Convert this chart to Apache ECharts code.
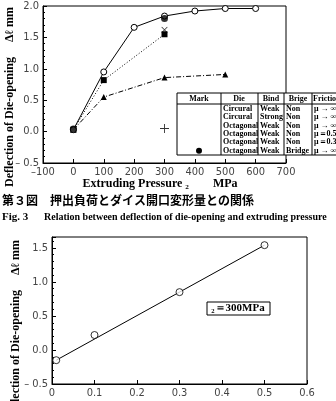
<!DOCTYPE html>
<html>
<head>
<meta charset="utf-8">
<script src="https://cdn.jsdelivr.net/npm/echarts@6/dist/echarts.min.js"></script>
<style>
  html, body { margin: 0; padding: 0; background: #fff; }
  #chart { width: 336px; height: 401px; }
</style>
</head>
<body>
<div id="chart"></div>
<script>
// top chart: deflection vs extruding pressure
var pressInf = [0, 100, 200, 300, 400, 500, 600];
var deflInf = [0.03, 0.95, 1.66, 1.84, 1.92, 1.96, 1.96];
var pressHalf = [0, 100, 300];
var deflHalf = [0.03, 0.82, 1.55];
var pressThird = [0, 100, 300, 500];
var deflThird = [0.03, 0.55, 0.86, 0.91];
var pressBridge = [0, 300];
var deflBridge = [0.04, 1.8];
var pressCircWeak = [300];
var deflCircWeak = [1.62];
var pressCircStrong = [300];
var deflCircStrong = [0.05];

// bottom chart: deflection vs friction at p2 = 300MPa
var friction = [0.01, 0.1, 0.3, 0.5];
var deflFric = [-0.15, 0.22, 0.85, 1.54];
var fitX = [0.01, 0.5];
var fitY = [-0.15, 1.54];

// legend table
var tblHead = ['Mark', 'Die', 'Bind', 'Brige', 'Friction'];
var tblDie = ['Circural', 'Circural', 'Octagonal', 'Octagonal', 'Octagonal', 'Octagonal'];
var tblBind = ['Weak', 'Strong', 'Weak', 'Weak', 'Weak', 'Weak'];
var tblBrige = ['Non', 'Non', 'Non', 'Non', 'Non', 'Bridge'];
var tblFric = ['μ → ∞', 'μ → ∞', 'μ → ∞', 'μ＝0.5', 'μ＝0.3', 'μ → ∞'];

function zip(xs, ys) {
    return xs.map(function (x, i) { return [x, ys[i]]; });
}

var plusPath = 'path://M4.5,0h1v10h-1z M0,4.5h10v1h-10z';
var tickFont = { color: '#444', fontSize: 11, fontFamily: 'Liberation Sans Narrow, DejaVu Sans Condensed, sans-serif' };
var serifB = 'Liberation Serif, DejaVu Serif, serif';

function minusFmt(v) {
    var s = (Math.round(v * 10) / 10).toFixed(1);
    return s.replace('-', '– ');
}

var chart = echarts.init(document.getElementById('chart'));

// build table graphics
var tx = [177, 221, 258, 284, 312];
var tTop = 93, tHead = 104, tBot = 155, rowH = 8.4;
var tbl = [];
tbl.push({ type: 'rect', shape: { x: 177, y: tTop, width: 175, height: tBot - tTop }, style: { fill: '#fff', stroke: '#000', lineWidth: 1 }, z: 10 });
tbl.push({ type: 'line', shape: { x1: 177, y1: tHead, x2: 340, y2: tHead }, style: { stroke: '#000', lineWidth: 1 }, z: 11 });
for (var c = 1; c < tx.length; c++) {
    tbl.push({ type: 'line', shape: { x1: tx[c], y1: tTop, x2: tx[c], y2: tBot }, style: { stroke: '#000', lineWidth: 1 }, z: 11 });
}
var headX = [199, 239, 271, 298, 313];
tblHead.forEach(function (h, i) {
    tbl.push({ type: 'text', x: headX[i], y: 99, z: 12, style: { text: h, fill: '#000', font: 'bold 8px ' + serifB, textAlign: i == 4 ? 'left' : 'center', textVerticalAlign: 'middle' } });
});
function rowY(r) { return tHead + rowH * (r + 0.5) + 0.5; }
var cols = [tblDie, tblBind, tblBrige, tblFric];
for (var r = 0; r < 6; r++) {
    cols.forEach(function (col, i) {
        tbl.push({ type: 'text', x: tx[i + 1] + 2, y: rowY(r), z: 12, style: { text: col[r], fill: '#000', font: 'bold 8px ' + serifB, textAlign: 'left', textVerticalAlign: 'middle' } });
    });
}
// mark column
tbl.push({ type: 'group', x: 199, y: rowY(0), z: 12, children: [
    { type: 'line', shape: { x1: -3, y1: -3, x2: 3, y2: 3 }, style: { stroke: '#000' } },
    { type: 'line', shape: { x1: -3, y1: 3, x2: 3, y2: -3 }, style: { stroke: '#000' } }] });
tbl.push({ type: 'group', x: 199, y: rowY(1), z: 12, children: [
    { type: 'line', shape: { x1: -4, y1: 0, x2: 4, y2: 0 }, style: { stroke: '#000' } },
    { type: 'line', shape: { x1: 0, y1: -4, x2: 0, y2: 4 }, style: { stroke: '#000' } }] });
tbl.push({ type: 'group', x: 199, y: rowY(2), z: 12, children: [
    { type: 'line', shape: { x1: -16, y1: 0, x2: 16, y2: 0 }, style: { stroke: '#000' } },
    { type: 'circle', shape: { cx: 0, cy: 0, r: 3 }, style: { fill: '#fff', stroke: '#000' } }] });
tbl.push({ type: 'group', x: 199, y: rowY(3), z: 12, children: [
    { type: 'line', shape: { x1: -18, y1: 0, x2: 18, y2: 0 }, style: { stroke: '#000', lineDash: [1, 1.5] } },
    { type: 'rect', shape: { x: -3, y: -3, width: 6, height: 6 }, style: { fill: '#000' } }] });
tbl.push({ type: 'group', x: 199, y: rowY(4), z: 12, children: [
    { type: 'line', shape: { x1: -18, y1: 0, x2: 18, y2: 0 }, style: { stroke: '#000', lineDash: [4, 2, 1, 2] } },
    { type: 'polygon', shape: { points: [[0, -3.5], [3.5, 3], [-3.5, 3]] }, style: { fill: '#000' } }] });
tbl.push({ type: 'circle', x: 199, y: rowY(5), z: 12, shape: { cx: 0, cy: 0, r: 3 }, style: { fill: '#000' } });

// labels and captions
var yName = 'Deflection of Die-opening     Δℓ mm';
var txt = [
    { type: 'text', x: 10, y: 97, rotation: Math.PI / 2, z: -1, style: { text: yName, fill: '#000', font: 'bold 12px ' + serifB, textAlign: 'center', textVerticalAlign: 'middle' } },
    { type: 'text', x: 160, y: 184, style: { text: 'Extruding Pressure ₂        MPa', fill: '#000', font: 'bold 12px ' + serifB, textAlign: 'center', textVerticalAlign: 'middle' } },
    { type: 'text', x: 2, y: 200, style: { text: '第３図　押出負荷とダイス開口変形量との関係', fill: '#000', font: 'bold 12px Noto Sans CJK JP', textAlign: 'left', textVerticalAlign: 'middle' } },
    { type: 'text', x: 2, y: 217, style: { text: 'Fig. 3', fill: '#000', font: 'bold 11px ' + serifB, textAlign: 'left', textVerticalAlign: 'middle' } },
    { type: 'text', x: 44, y: 217, style: { text: 'Relation between deflection of die-opening and extruding pressure', fill: '#000', font: 'bold 10px ' + serifB, textAlign: 'left', textVerticalAlign: 'middle' } },
    { type: 'text', x: 16, y: 330, rotation: Math.PI / 2, z: -1, style: { text: yName, fill: '#000', font: 'bold 12px ' + serifB, textAlign: 'center', textVerticalAlign: 'middle' } },
    { type: 'rect', shape: { x: 207, y: 302, width: 63, height: 13 }, style: { fill: '#fff', stroke: '#000', lineWidth: 1 } },
    { type: 'text', x: 238, y: 308.5, style: { text: '₂＝300MPa', fill: '#000', font: 'bold 11px ' + serifB, textAlign: 'center', textVerticalAlign: 'middle' } }
];

var option = {
    animation: false,
    backgroundColor: '#fff',
    grid: [
        { left: 43, top: 6, width: 243, height: 157, show: true, borderColor: '#000', borderWidth: 1 },
        { left: 52, top: 237, width: 255, height: 147, show: true, borderColor: '#000', borderWidth: 1 }
    ],
    xAxis: [
        { gridIndex: 0, type: 'value', min: -100, max: 700, interval: 100,
          axisLine: { onZero: false, lineStyle: { color: '#000' } },
          axisTick: { inside: true, length: 4, lineStyle: { color: '#000' } },
          axisLabel: Object.assign({ margin: 4, formatter: function (v) { return String(v).replace('-', '–'); } }, tickFont),
          splitLine: { show: false } },
        { gridIndex: 1, type: 'value', min: 0, max: 0.6, interval: 0.1,
          axisLine: { onZero: false, lineStyle: { color: '#000' } },
          axisTick: { inside: true, length: 4, lineStyle: { color: '#000' } },
          axisLabel: Object.assign({ margin: 4, formatter: function (v) { return v === 0 ? '0' : v.toFixed(1); } }, tickFont),
          splitLine: { show: false } }
    ],
    yAxis: [
        { gridIndex: 0, type: 'value', min: -0.5, max: 2.0, interval: 0.5,
          axisLine: { show: true, onZero: false, lineStyle: { color: '#000' } },
          axisTick: { inside: true, length: 4, lineStyle: { color: '#000' } },
          minorTick: { show: true, splitNumber: 5, length: 2, lineStyle: { color: '#000' } },
          axisLabel: Object.assign({ margin: 4, formatter: minusFmt }, tickFont),
          splitLine: { show: false } },
        { gridIndex: 1, type: 'value', min: -0.5, max: 1.66, interval: 0.5,
          axisLine: { show: true, onZero: false, lineStyle: { color: '#000' } },
          axisTick: { inside: true, length: 4, lineStyle: { color: '#000' } },
          minorTick: { show: true, splitNumber: 5, length: 2, lineStyle: { color: '#000' } },
          axisLabel: Object.assign({ margin: 4, showMaxLabel: false, formatter: minusFmt }, tickFont),
          splitLine: { show: false } }
    ],
    graphic: txt.concat(tbl),
    series: [
        { type: 'line', xAxisIndex: 0, yAxisIndex: 0, data: zip(pressInf, deflInf),
          symbol: 'circle', symbolSize: 6, z: 5,
          lineStyle: { color: '#000', width: 1 }, itemStyle: { color: '#fff', borderColor: '#000', borderWidth: 1 } },
        { type: 'line', xAxisIndex: 0, yAxisIndex: 0, data: zip(pressHalf, deflHalf),
          symbol: 'rect', symbolSize: 6,
          lineStyle: { color: '#000', width: 1, type: [1, 2] }, itemStyle: { color: '#000' } },
        { type: 'line', xAxisIndex: 0, yAxisIndex: 0, data: zip(pressThird, deflThird),
          symbol: 'triangle', symbolSize: 6,
          lineStyle: { color: '#000', width: 1, type: [5, 2, 1, 2] }, itemStyle: { color: '#000' } },
        { type: 'scatter', xAxisIndex: 0, yAxisIndex: 0, data: zip(pressBridge, deflBridge),
          symbol: 'circle', symbolSize: 7, itemStyle: { color: '#000' }, z: 6 },
        { type: 'scatter', xAxisIndex: 0, yAxisIndex: 0, data: zip(pressCircWeak, deflCircWeak),
          symbol: plusPath, symbolRotate: 45, symbolSize: 8, itemStyle: { color: '#000' } },
        { type: 'scatter', xAxisIndex: 0, yAxisIndex: 0, data: zip(pressCircStrong, deflCircStrong),
          symbol: plusPath, symbolSize: 9, itemStyle: { color: '#000' } },
        { type: 'line', xAxisIndex: 1, yAxisIndex: 1, data: zip(fitX, fitY),
          symbol: 'none', lineStyle: { color: '#000', width: 1 } },
        { type: 'scatter', xAxisIndex: 1, yAxisIndex: 1, data: zip(friction, deflFric),
          symbol: 'circle', symbolSize: 7, z: 5,
          itemStyle: { color: '#fff', borderColor: '#000', borderWidth: 1 } }
    ]
};

chart.setOption(option);
</script>
</body>
</html>
